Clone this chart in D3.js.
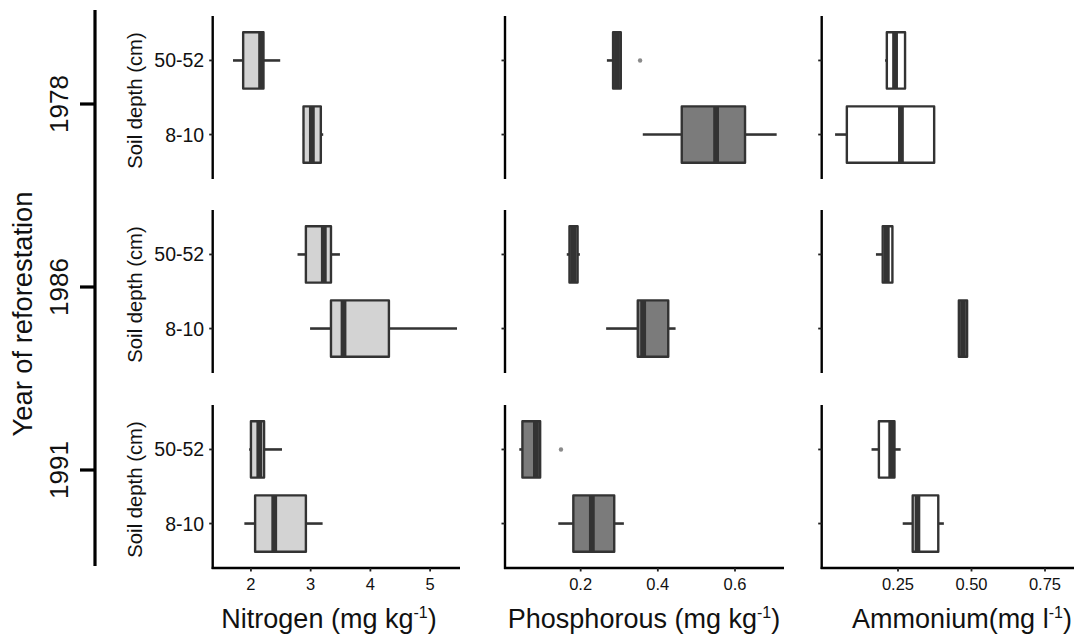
<!DOCTYPE html>
<html>
<head>
<meta charset="utf-8">
<script src="https://cdn.jsdelivr.net/npm/d3@7"></script>
<style>
  html, body { margin: 0; padding: 0; background: #fff; }
  svg { display: block; }
  text { font-family: "Liberation Sans", Arial, sans-serif; fill: #111; }
</style>
</head>
<body>
<svg id="chart" width="1077" height="637"></svg>
<script>
// ---------------- DATA ----------------
const years = ["1978", "1986", "1991"];
const depths = ["50-52", "8-10"];
const variables = ["Nitrogen", "Phosphorous", "Ammonium"];

// each row: [year, depth, lowerWhisker, q1, median, q3, upperWhisker]
const nitrogen = [
  ["1978", "50-52", 1.70, 1.87, 2.17, 2.21, 2.49],
  ["1978", "8-10",  2.87, 2.88, 3.02, 3.17, 3.21],
  ["1986", "50-52", 2.78, 2.92, 3.22, 3.34, 3.49],
  ["1986", "8-10",  2.99, 3.34, 3.55, 4.31, 5.45],
  ["1991", "50-52", 1.97, 2.00, 2.14, 2.22, 2.52],
  ["1991", "8-10",  1.89, 2.07, 2.39, 2.92, 3.20]
];
const phosphorous = [
  ["1978", "50-52", 0.268, 0.284, 0.294, 0.304, 0.304],
  ["1978", "8-10",  0.361, 0.462, 0.551, 0.626, 0.708],
  ["1986", "50-52", 0.164, 0.171, 0.181, 0.192, 0.198],
  ["1986", "8-10",  0.266, 0.348, 0.362, 0.427, 0.446],
  ["1991", "50-52", 0.041, 0.049, 0.084, 0.095, 0.095],
  ["1991", "8-10",  0.142, 0.181, 0.229, 0.287, 0.312]
];
const ammonium = [
  ["1978", "50-52", 0.206, 0.212, 0.240, 0.274, 0.277],
  ["1978", "8-10",  0.036, 0.076, 0.260, 0.373, 0.373],
  ["1986", "50-52", 0.175, 0.198, 0.212, 0.231, 0.231],
  ["1986", "8-10",  0.457, 0.457, 0.471, 0.485, 0.485],
  ["1991", "50-52", 0.160, 0.185, 0.227, 0.238, 0.259],
  ["1991", "8-10",  0.266, 0.300, 0.316, 0.387, 0.406]
];
// outliers: [year, depth, value]
const phosphorousOutliers = [
  ["1978", "50-52", 0.354],
  ["1991", "50-52", 0.149]
];
const nitrogenTicks = [2, 3, 4, 5];
const phosphorousTicks = [0.2, 0.4, 0.6];
const ammoniumTicks = [0.25, 0.50, 0.75];

// ---------------- LAYOUT ----------------
const svg = d3.select("#chart");
const rowTops = [16, 210, 405];
const rowH = 163;
const colX = [[212.7, 460], [505, 784], [821.7, 1074]];
const fills = ["#d3d3d3", "#7b7b7b", "#ffffff"];
const stroke = "#333333";

const panels = [
  { data: nitrogen, outliers: [], domain: [1.36, 5.5], ticks: nitrogenTicks, fmt: d3.format("d"),
    title: ["Nitrogen (mg kg", "-1", ")"], titleX: 329 },
  { data: phosphorous, outliers: phosphorousOutliers, domain: [0.0039, 0.727], ticks: phosphorousTicks, fmt: d3.format(".1f"),
    title: ["Phosphorous (mg kg", "-1", ")"], titleX: 644 },
  { data: ammonium, outliers: [], domain: [-0.0095, 0.8486], ticks: ammoniumTicks, fmt: d3.format(".2f"),
    title: ["Ammonium(mg l", "-1", ")"], titleX: 962 }
];

// outer year axis
const yearScale = d3.scalePoint().domain(years).range([104, 470]);
const outer = svg.append("g");
outer.append("line").attr("x1", 95).attr("x2", 95).attr("y1", 10).attr("y2", 566)
  .attr("stroke", "#000").attr("stroke-width", 3.2);
years.forEach(y => {
  outer.append("line").attr("x1", 80).attr("x2", 95)
    .attr("y1", yearScale(y)).attr("y2", yearScale(y))
    .attr("stroke", "#000").attr("stroke-width", 3.2);
  outer.append("text")
    .attr("transform", `translate(59,${yearScale(y)}) rotate(-90)`)
    .attr("text-anchor", "middle").attr("dominant-baseline", "central")
    .style("font-size", "26px").text(y);
});
outer.append("text")
  .attr("transform", "translate(22,314) rotate(-90)")
  .attr("text-anchor", "middle").attr("dominant-baseline", "central")
  .style("font-size", "27.3px").text("Year of reforestation");

// panels
panels.forEach((p, ci) => {
  const x = d3.scaleLinear().domain(p.domain).range(colX[ci]);
  years.forEach((yr, ri) => {
    const top = rowTops[ri];
    const y = d3.scalePoint().domain(depths).range([top, top + rowH]).padding(0.6);
    const boxH = y.step() * 0.76;
    const g = svg.append("g");

    // y axis line
    g.append("line").attr("x1", colX[ci][0]).attr("x2", colX[ci][0])
      .attr("y1", top).attr("y2", top + rowH + (ri === 2 ? 1 : 0))
      .attr("stroke", "#000").attr("stroke-width", 2.4);
    depths.forEach(d => {
      g.append("line").attr("x1", colX[ci][0] - 3.5).attr("x2", colX[ci][0])
        .attr("y1", y(d)).attr("y2", y(d)).attr("stroke", "#222").attr("stroke-width", 1.8);
      if (ci === 0) {
        g.append("text").attr("x", colX[0][0] - 8.5).attr("y", y(d))
          .attr("text-anchor", "end").attr("dominant-baseline", "central")
          .style("font-size", "19.5px").text(d);
      }
    });
    if (ci === 0) {
      g.append("text")
        .attr("transform", `translate(135,${top + rowH / 2 + 3}) rotate(-90)`)
        .attr("text-anchor", "middle").attr("dominant-baseline", "central")
        .style("font-size", "20.3px").text("Soil depth (cm)");
    }

    // boxes
    p.data.filter(r => r[0] === yr).forEach(r => {
      const [, d, lo, q1, med, q3, hi] = r;
      const cy = y(d);
      g.append("line").attr("x1", x(lo)).attr("x2", x(q1)).attr("y1", cy).attr("y2", cy)
        .attr("stroke", stroke).attr("stroke-width", 2.6);
      g.append("line").attr("x1", x(q3)).attr("x2", x(hi)).attr("y1", cy).attr("y2", cy)
        .attr("stroke", stroke).attr("stroke-width", 2.6);
      g.append("rect").attr("x", x(q1)).attr("y", cy - boxH / 2)
        .attr("width", Math.max(0, x(q3) - x(q1))).attr("height", boxH)
        .attr("fill", fills[ci]).attr("stroke", stroke).attr("stroke-width", 2.4)
        .attr("stroke-linejoin", "round");
      g.append("line").attr("x1", x(med)).attr("x2", x(med))
        .attr("y1", cy - boxH / 2).attr("y2", cy + boxH / 2)
        .attr("stroke", stroke).attr("stroke-width", 5.8);
    });
    p.outliers.filter(o => o[0] === yr).forEach(o => {
      g.append("circle").attr("cx", x(o[2])).attr("cy", y(o[1])).attr("r", 2.2)
        .attr("fill", "#8a8a8a");
    });
  });

  // bottom x axis
  const axisY = rowTops[2] + rowH;
  const gx = svg.append("g");
  gx.append("line").attr("x1", colX[ci][0] - 1).attr("x2", colX[ci][1])
    .attr("y1", axisY).attr("y2", axisY).attr("stroke", "#000").attr("stroke-width", 2.4);
  p.ticks.forEach(t => {
    gx.append("line").attr("x1", x(t)).attr("x2", x(t)).attr("y1", axisY).attr("y2", axisY + 3.5)
      .attr("stroke", "#222").attr("stroke-width", 1.8);
    gx.append("text").attr("x", x(t)).attr("y", axisY + 16)
      .attr("text-anchor", "middle").attr("dominant-baseline", "central")
      .style("font-size", "16.5px").text(p.fmt(t));
  });
  const title = gx.append("text")
    .attr("x", p.titleX).attr("y", 628)
    .attr("text-anchor", "middle").style("font-size", "27px");
  title.append("tspan").text(p.title[0]);
  title.append("tspan").attr("dy", -10).style("font-size", "16px").text(p.title[1]);
  title.append("tspan").attr("dy", 10).text(p.title[2]);
});
</script>
</body>
</html>
